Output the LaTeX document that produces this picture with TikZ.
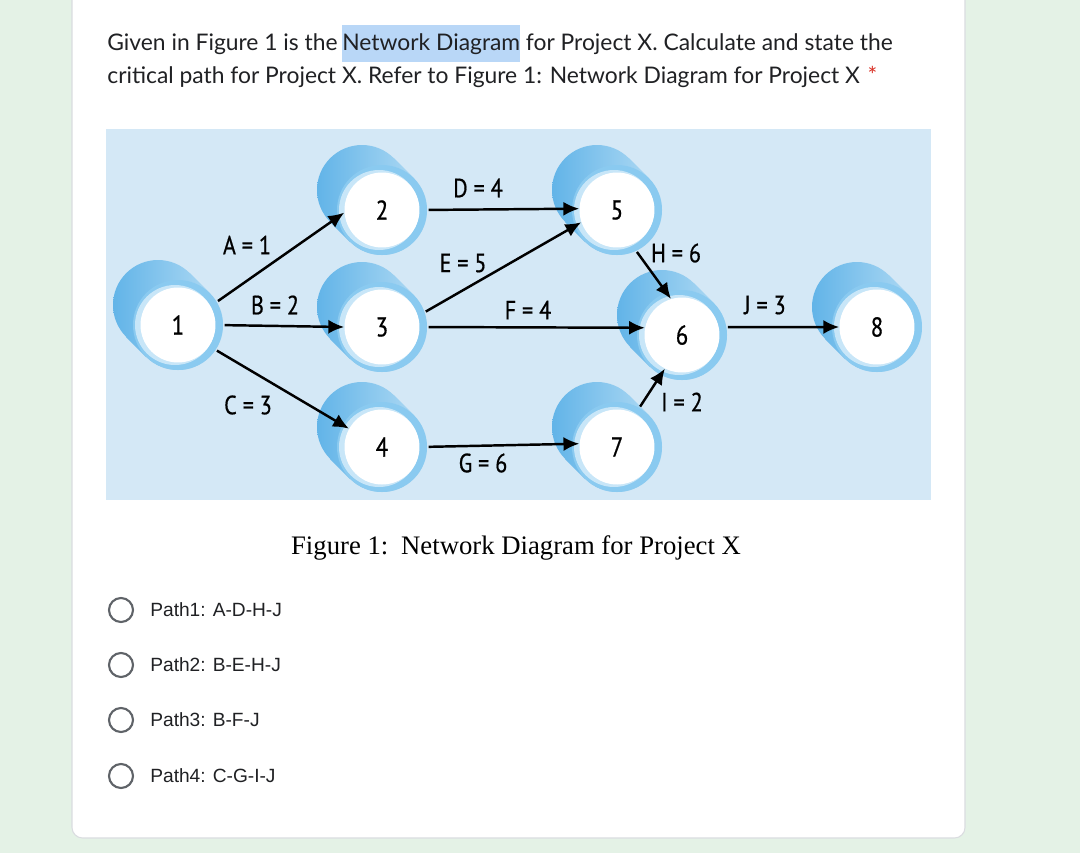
\documentclass[tikz,border=0pt]{standalone}
\usepackage{fontspec}
\setmainfont{Lato}
\newfontfamily\capfont{Liberation Serif}
\newfontfamily\optfont{Liberation Sans}
\newfontfamily\lblfont{PT Sans}[FakeStretch=0.84,FakeBold=0.6]
\usetikzlibrary{arrows.meta,calc}

\definecolor{pagebg}{HTML}{E4F2E6}
\definecolor{cardline}{HTML}{DADCE0}
\definecolor{inktext}{HTML}{202124}
\definecolor{hilite}{HTML}{B9D7F7}
\definecolor{reqred}{HTML}{D93025}
\definecolor{figbg}{HTML}{D4E8F6}
\definecolor{cyldark}{HTML}{62B4E8}
\definecolor{cyllight}{HTML}{B4DCF4}
\definecolor{ringblue}{HTML}{8ACAF0}
\definecolor{ringlite}{HTML}{C8E6F8}
\definecolor{radgray}{HTML}{5F6368}

\begin{document}
\begin{tikzpicture}[
          x=0.02cm, y=-0.02cm,
          qtext/.style={text=inktext, inner xsep=0pt, inner ysep=4.5pt, font=\fontsize{13}{15}\selectfont},
          evt/.style={circle, fill=white, minimum size=1.5cm, inner sep=0pt, font=\lblfont\fontsize{15.5}{15.5}\selectfont},
          lbl/.style={inner sep=1pt, font=\lblfont\fontsize{15}{15}\selectfont},
          arr/.style={draw, line width=1.4pt, -{Latex[length=9pt,width=8pt]}, shorten <=5pt},
          radio/.style={circle, draw=radgray, line width=1.2pt, minimum size=0.48cm, inner sep=0pt},
          opt/.style={anchor=west, inner sep=0pt, text=inktext, font=\optfont\fontsize{10.9}{13}\selectfont}
      ]
        \useasboundingbox (0,0) rectangle (1080,853);
        \fill[pagebg] (0,0) rectangle (1080,853);
        \draw[cardline, fill=white, line width=0.6pt, rounded corners=6pt] (72,-20) rectangle (965,838);
        % question text
        \node[qtext, anchor=base west] (q1a) at (107,50) {Given in Figure 1 is the};
        \node[qtext, anchor=base west, fill=hilite] (q1b) at ($(q1a.base east)+(4,0)$) {Network Diagram};
        \node[qtext, anchor=base west] (q1c) at ($(q1b.base east)+(5,0)$) {for Project X. Calculate and state the};
        \node[qtext, anchor=base west] (q2) at (107,83) {critical path for Project X. Refer to Figure 1: Network Diagram for Project X};
        \node[qtext, anchor=base west, text=reqred] (req) at ($(q2.base east)+(7,0)$) {*};
        % figure
        \fill[figbg] (106,129) rectangle (931,500);
        \foreach \n/\x/\y in {1/178/325, 2/382/210, 3/382/327, 4/382/447,
                              5/617/210, 6/682/335, 7/617/447, 8/877/327}{
          \shade[left color=cyldark, right color=cyllight]
            (\x-20,\y-20) circle (45) (\x,\y) circle (45)
            (\x-32,\y+32) -- (\x-52,\y+12) -- (\x+12,\y-52) -- (\x+32,\y-32) -- cycle;
          \fill[ringblue] (\x,\y) circle (45);
          \fill[ringlite] (\x-3,\y) circle (40);
          \node[evt] (n\n) at (\x,\y) {\n};
        }
        \node[lbl] (lA) at (247,245) {A = 1};
        \node[lbl] (lB) at (275,305) {B = 2};
        \node[lbl] (lC) at (248,405) {C = 3};
        \node[lbl] (lD) at (478,188) {D = 4};
        \node[lbl] (lE) at (463,263) {E = 5};
        \node[lbl] (lF) at (528,310) {F = 4};
        \node[lbl] (lG) at (483,463) {G = 6};
        \node[lbl] (lH) at (676,253) {H = 6};
        \node[lbl] (lI) at (682,402) {I = 2};
        \node[lbl] (lJ) at (765,305) {J = 3};
        \draw[arr] (n1.30) -- (n2.184);
        \draw[arr] (n1.east) -- (n3.west);
        \draw[arr] (n1.326) -- (n4.151);
        \draw[arr] (n2.east) -- (n5.178);
        \draw[arr] (n3.17) -- (n5.199);
        \draw[arr] (n3.east) -- (n6.169);
        \draw[arr] (n4.east) -- (n7.175);
        \draw[arr] (n5.293) -- (n6.107);
        \draw[arr] (n7.61) -- (n6.243);
        \draw[arr] (n6.12) -- (n8.west);
        \node[text=black, font=\capfont\fontsize{15.2}{18}\selectfont] (cap) at (516,548) {Figure 1:\hspace{0.15em} Network Diagram for Project X};
        % answer options
        \foreach \i/\y/\t in {1/610/Path1: A-D-H-J, 2/665/Path2: B-E-H-J,
                              3/720/Path3: B-F-J, 4/776/Path4: C-G-I-J}{
          \node[radio] (r\i) at (121,\y) {};
          \node[opt] (o\i) at (150,\y) {\t};
        }
      \end{tikzpicture}
\end{document}
